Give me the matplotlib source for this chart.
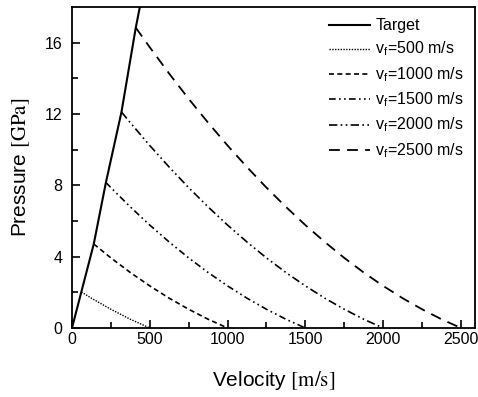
import numpy as np
import matplotlib.pyplot as plt

plt.rcParams['font.family'] = 'Liberation Sans'
plt.rcParams['mathtext.fontset'] = 'stix'
plt.rcParams['axes.linewidth'] = 1.3
plt.rcParams['xtick.direction'] = 'in'
plt.rcParams['ytick.direction'] = 'in'

# data
target_v = [0, 60, 140, 218, 318, 410, 445]
target_p = [0, 2.02, 4.71, 8.16, 12.11, 16.84, 18.4]

v500 = [60, 125, 250, 375, 500]
p500 = [2.02, 1.67, 1.05, 0.49, 0]

v1000 = [140, 250, 375, 500, 625, 750, 875, 1000]
p1000 = [4.71, 3.93, 3.11, 2.36, 1.67, 1.05, 0.49, 0]

v1500 = [218, 250, 375, 500, 625, 750, 875, 1000, 1125, 1250, 1375, 1500]
p1500 = [8.16, 7.87, 6.79, 5.77, 4.82, 3.93, 3.11, 2.36, 1.67, 1.05, 0.49, 0]

v2000 = [318, 375, 500, 625, 750, 875, 1000, 1125, 1250, 1375, 1500, 1625, 1750, 1875, 2000]
p2000 = [12.11, 11.51, 10.23, 9.02, 7.87, 6.79, 5.77, 4.82, 3.93, 3.11, 2.36, 1.67, 1.05, 0.49, 0]

v2500 = [410, 500, 625, 750, 875, 1000, 1125, 1250, 1375, 1500, 1625, 1750, 1875, 2000, 2125, 2250, 2375, 2500]
p2500 = [16.84, 15.74, 14.26, 12.85, 11.51, 10.23, 9.02, 7.87, 6.79, 5.77, 4.82, 3.93, 3.11, 2.36, 1.67, 1.05, 0.49, 0]

fig = plt.figure(figsize=(4.78, 3.97), dpi=100)
ax = fig.add_axes([0.1506, 0.1738, 0.8431, 0.8086])

ax.plot(target_v, target_p, '-k', lw=1.5, label='Target')
ax.plot(v500, p500, color='k', lw=1.0, ls=(0, (1, 1)), label=r'v$_{\mathregular{f}}$=500 m/s')
ax.plot(v1000, p1000, color='k', lw=1.2, ls=(0, (3, 2)), label=r'v$_{\mathregular{f}}$=1000 m/s')
ax.plot(v1500, p1500, color='k', lw=1.2, ls=(0, (4, 2, 1, 2, 1, 2)), label=r'v$_{\mathregular{f}}$=1500 m/s')
ax.plot(v2000, p2000, color='k', lw=1.2, ls=(0, (5, 2, 1, 2, 1, 2)), label=r'v$_{\mathregular{f}}$=2000 m/s')
ax.plot(v2500, p2500, color='k', lw=1.3, ls=(0, (6, 4)), label=r'v$_{\mathregular{f}}$=2500 m/s')

ax.set_xlim(0, 2590)
ax.set_ylim(0, 18)
ax.set_xticks([0, 500, 1000, 1500, 2000, 2500])
ax.set_xticks(np.arange(250, 2600, 500), minor=True)
ax.set_yticks([0, 4, 8, 12, 16])
ax.set_yticks([2, 6, 10, 14], minor=True)
ax.tick_params(which='major', length=6, width=1.2, labelsize=11.5)
ax.tick_params(which='minor', length=4, width=1.2)
ax.tick_params(axis='x', pad=3)
ax.tick_params(axis='y', pad=7)

ax.set_xlabel(r'Velocity $[\mathrm{m/s}]$', fontsize=15, labelpad=16)
ax.set_ylabel(r'Pressure $[\mathrm{GPa}]$', fontsize=15, labelpad=9)

ax.legend(loc='upper right', frameon=False, fontsize=11.5, handlelength=2.6,
          handletextpad=0.3, labelspacing=0.45, borderaxespad=0.3)

plt.savefig('out.png', dpi=100)
